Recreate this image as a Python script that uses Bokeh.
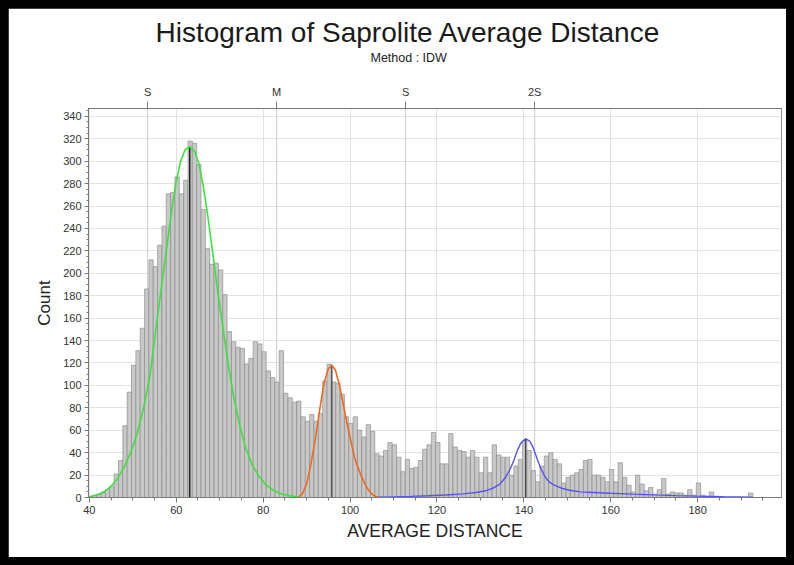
from bokeh.plotting import figure
from bokeh.models import (Range1d, LinearAxis, FixedTicker, SingleIntervalTicker,
                          Title, Span)
from bokeh.embed import file_html
from bokeh.resources import INLINE

# ---------------- data ----------------
title_text = "Histogram of Saprolite Average Distance"
subtitle_text = "Method : IDW"
x_label = "AVERAGE DISTANCE"
y_label = "Count"

bin_start = 39.7
bin_width = 1.0
counts = [
    1, 2, 3, 5, 7, 10, 21, 33, 64, 94,            # 40-49
    118, 131, 151, 186, 212, 206, 225, 242, 271, 272,  # 50-59
    286, 271, 283, 318, 316, 297, 257, 222, 208, 209,  # 60-69
    203, 181, 148, 139, 134, 133, 119, 124, 139, 137,  # 70-79
    130, 113, 107, 103, 131, 93, 89, 85, 86, 72,       # 80-89
    68, 74, 68, 75, 104, 119, 103, 102, 92, 72,        # 90-99
    66, 72, 60, 54, 65, 59, 39, 37, 42, 49,            # 100-109
    47, 36, 23, 34, 26, 27, 33, 43, 47, 58,            # 110-119
    49, 30, 30, 57, 45, 42, 41, 36, 42, 36,            # 120-129
    22, 36, 22, 47, 38, 36, 36, 20, 28, 34,            # 130-139
    51, 42, 24, 14, 28, 37, 40, 34, 30, 13,            # 140-149
    18, 20, 22, 25, 33, 34, 20, 20, 18, 14,            # 150-159
    25, 14, 31, 18, 11, 5, 20, 12, 6, 9,               # 160-169
    3, 7, 17, 3, 5, 4, 4, 2, 7, 2,                     # 170-179
    13, 2, 1, 5, 0, 0, 0, 0, 0, 0,                     # 180-189
    0, 0, 4, 0,                                        # 190-193
]

stat_positions = [53.4, 83.1, 112.8, 142.5]
stat_labels = ["S", "M", "S", "2S"]

green_x = [39.8, 41, 43, 45, 46.5, 48, 49.5, 51, 52.5, 54, 55.3, 56.5, 57.7, 58.9,
           60, 61, 62, 63.1, 64.2, 65.2, 66.2, 67.3, 68.5, 69.6, 70.8, 72, 73.2,
           74.5, 76, 77.5, 79, 80.7, 82.5, 84.5, 86.5, 88.2]
green_y = [0.3, 1.5, 4, 10, 17, 27, 40, 57, 80, 110, 150, 185, 220, 255,
           282, 300, 310, 313, 309, 298, 278, 250, 215, 182, 150, 118, 90,
           66, 44, 29, 19, 11, 6, 3, 1.2, 0.3]

orange_x = [88.2, 89, 90, 91, 92, 93, 94, 95, 95.8, 96.6, 97.5, 98.3, 99.2, 100.2,
            101, 101.7, 102.5, 103.2, 104, 104.8, 105.6, 106.5]
orange_y = [0.5, 3, 12, 30, 52, 78, 102, 115, 118, 114, 101, 86, 68, 50,
            36, 28, 20, 14, 8, 4, 1.5, 0.3]

blue_x = [106.5, 110, 114, 118, 122, 126, 129, 131.5, 133, 134.5, 135.8, 136.8,
          137.6, 138.5, 139.3, 140.4, 141.4, 142.2, 143, 143.9, 144.8, 145.8,
          147, 148.5, 150.5, 153, 156, 160, 165, 170, 175, 180, 186, 192.7]
blue_y = [0.3, 0.6, 1, 1.5, 2.2, 3.2, 4.5, 6.3, 8.5, 12, 18, 25,
          32, 42, 48.5, 52.5, 50, 44, 35, 26, 19, 14,
          11, 8.5, 6.5, 5, 4.5, 3.8, 3, 2.3, 1.7, 1.2, 0.7, 0.3]

peak_x = [63.1, 95.8, 140.4]
peak_y = [313, 118, 52.5]

# ---------------- figure ----------------
FONT = "Liberation Sans"

p = figure(width=778, height=549, output_backend="svg", toolbar_location=None,
           title=None,
           x_range=Range1d(39.8, 199.3), y_range=Range1d(0, 347),
           min_border_left=80, min_border_right=5, min_border_top=100,
           min_border_bottom=60,
           background_fill_color="white", border_fill_color="white")
p.outline_line_color = "#8a8a8a"

# grids
p.xgrid.ticker = SingleIntervalTicker(interval=20)
p.ygrid.ticker = SingleIntervalTicker(interval=20)
for g in (p.xgrid, p.ygrid):
    g.grid_line_color = "#e3e3e3"
    g.grid_line_width = 1

# axes
for ax in (p.xaxis, p.yaxis):
    ax.ticker = SingleIntervalTicker(interval=20, num_minor_ticks=4)
    ax.axis_line_color = "#7a7a7a"
    ax.major_tick_line_color = "#7a7a7a"
    ax.minor_tick_line_color = "#7a7a7a"
    ax.major_tick_in = 0
    ax.minor_tick_in = 0
    ax.major_tick_out = 5
    ax.minor_tick_out = 3
    ax.major_label_text_font = FONT
    ax.major_label_text_font_size = "11px"
    ax.major_label_text_color = "#333333"
    ax.axis_label_text_font = FONT
    ax.axis_label_text_font_style = "normal"
    ax.axis_label_text_color = "#222222"
    ax.major_label_standoff = 3

p.xaxis.axis_label = x_label
p.xaxis.axis_label_text_font_size = "17.5px"
p.xaxis.axis_label_standoff = 4
p.yaxis.axis_label = y_label
p.yaxis.axis_label_text_font_size = "17px"
p.yaxis.axis_label_standoff = 6
p.yaxis.major_tick_out = 4
p.yaxis.minor_tick_out = 2

top_axis = LinearAxis(
    ticker=FixedTicker(ticks=stat_positions, minor_ticks=[]),
    major_label_overrides=dict(zip(stat_positions, stat_labels)),
    axis_line_color="#7a7a7a",
    major_tick_line_color="#7a7a7a",
    major_tick_in=0, major_tick_out=7,
    major_label_standoff=4,
    major_label_text_font=FONT,
    major_label_text_font_size="11px",
    major_label_text_color="#333333",
)
p.add_layout(top_axis, "above")

sub = Title(text=subtitle_text, align="left", text_font=FONT,
            text_font_size="12.5px", text_font_style="normal",
            text_color="#222222", offset=282, standoff=36)
p.add_layout(sub, "above")
main = Title(text=title_text, align="left", text_font=FONT,
             text_font_size="28px", text_font_style="normal",
             text_color="#1a1a1a", offset=67, standoff=-34)
p.add_layout(main, "above")

# stat reference lines
for v in stat_positions:
    p.add_layout(Span(location=v, dimension="height", line_color="#cdcdcd",
                      line_width=1, level="underlay"))

# histogram bars
lefts = [bin_start + i * bin_width for i, c in enumerate(counts) if c > 0]
rights = [l + bin_width for l in lefts]
tops = [c for c in counts if c > 0]
p.quad(left=lefts, right=rights, bottom=0, top=tops,
       fill_color="#c8c8c8", line_color="#858585", line_width=0.6)

# peak markers
p.segment(x0=peak_x, y0=[0] * len(peak_x), x1=peak_x, y1=peak_y,
          line_color=["#111111", "#444444", "#444444"], line_width=1.3)

# fitted curves
p.line(green_x, green_y, line_color="#3ee03e", line_width=1.6)
p.line(orange_x, orange_y, line_color="#ef6a1c", line_width=1.6)
p.line(blue_x, blue_y, line_color="#5555ea", line_width=1.4)

tmpl = ("{% block postamble %}<style>"
        "html { background:#000000; overflow:hidden; } "
        "body { background:#000000; box-sizing:border-box; margin:0; padding:8px; overflow:hidden; }"
        "</style>{% endblock %}")
open("out.html", "w").write(file_html(p, INLINE, template=tmpl))
